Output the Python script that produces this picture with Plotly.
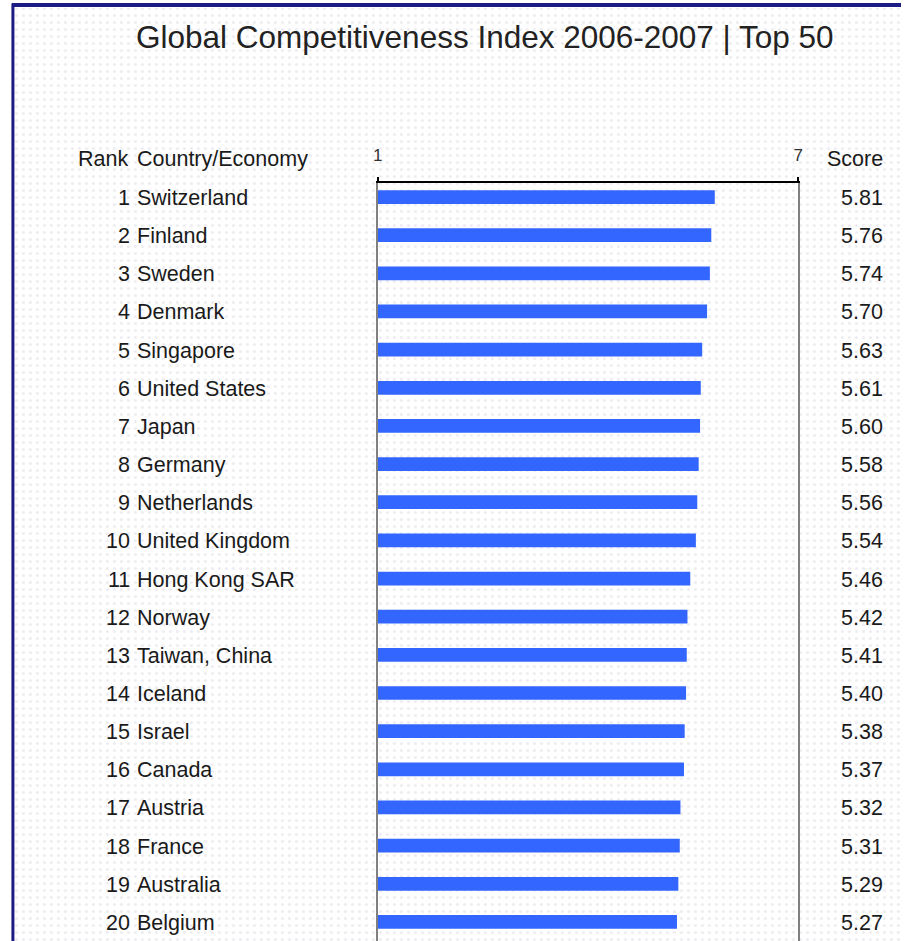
import plotly.graph_objects as go

# ---- data ----
ranks = list(range(1, 21))
countries = ["Switzerland", "Finland", "Sweden", "Denmark", "Singapore",
             "United States", "Japan", "Germany", "Netherlands", "United Kingdom",
             "Hong Kong SAR", "Norway", "Taiwan, China", "Iceland", "Israel",
             "Canada", "Austria", "France", "Australia", "Belgium"]
scores = [5.81, 5.76, 5.74, 5.70, 5.63, 5.61, 5.60, 5.58, 5.56, 5.54,
          5.46, 5.42, 5.41, 5.40, 5.38, 5.37, 5.32, 5.31, 5.29, 5.27]
axis_ticks = [1, 7]
title_text = "Global Competitiveness Index 2006-2007 | Top 50"

W, H = 906, 941
def X(px): return px / W
def Y(py): return 1 - py / H

FONT = "Liberation Sans, Arial, sans-serif"
TXT = "#1a1a1a"
BAR = "#3366ff"
NAVY = "#1c1c84"
FS = 21.5

fig = go.Figure()

# faint dotted page background (inside the navy frame)
fig.add_trace(go.Scatter(
    x=[0, 1, 1, 0, 0], y=[0, 0, 1, 1, 0], xaxis="x", yaxis="y",
    mode="none", fill="toself", fillcolor="white",
    fillpattern=dict(shape=".", fgcolor="#d9d9e3", bgcolor="white", size=7, solidity=0.15),
    hoverinfo="skip", showlegend=False))

# bars
fig.add_trace(go.Bar(
    x=scores, y=ranks, orientation="h", xaxis="x2", yaxis="y2",
    marker=dict(color=BAR, line=dict(width=0)), width=0.36,
    showlegend=False, hovertemplate="%{y}: %{x}<extra></extra>"))

ann = []
ann.append(dict(text=title_text, x=X(485), y=Y(37), xref="paper", yref="paper",
                xanchor="center", yanchor="middle", showarrow=False,
                font=dict(family=FONT, size=31.5, color="#222")))
hdr_y = Y(159)
ann.append(dict(text="Rank", x=X(126), y=hdr_y, xref="paper", yref="paper",
                xanchor="right", yanchor="middle", showarrow=False,
                font=dict(family=FONT, size=FS, color=TXT)))
ann.append(dict(text="Country/Economy", x=X(131), y=hdr_y, xref="paper", yref="paper",
                xanchor="left", yanchor="middle", showarrow=False,
                font=dict(family=FONT, size=FS, color=TXT)))
ann.append(dict(text="Score", x=X(890), y=hdr_y, xref="paper", yref="paper",
                xanchor="right", yanchor="middle", showarrow=False,
                font=dict(family=FONT, size=FS, color=TXT)))
for r, c, s in zip(ranks, countries, scores):
    ann.append(dict(text=str(r), x=X(128), y=r, xref="paper", yref="y2",
                    xanchor="right", yanchor="middle", showarrow=False, yshift=-1,
                    font=dict(family=FONT, size=FS, color=TXT)))
    ann.append(dict(text=c, x=X(131), y=r, xref="paper", yref="y2",
                    xanchor="left", yanchor="middle", showarrow=False, yshift=-1,
                    font=dict(family=FONT, size=FS, color=TXT)))
    ann.append(dict(text=f"{s:.2f}", x=X(890), y=r, xref="paper", yref="y2",
                    xanchor="right", yanchor="middle", showarrow=False, yshift=-1,
                    font=dict(family=FONT, size=FS, color=TXT)))

shapes = [
    dict(type="rect", xref="paper", yref="paper", x0=0, x1=1, y0=Y(8), y1=1,
         fillcolor="white", line=dict(width=0), layer="above"),
    dict(type="line", xref="paper", yref="paper", x0=X(7), x1=1, y0=Y(5), y1=Y(5),
         line=dict(color=NAVY, width=4), layer="above"),
    dict(type="line", xref="paper", yref="paper", x0=X(8), x1=X(8), y0=0, y1=Y(3.5),
         line=dict(color=NAVY, width=3), layer="above"),
]

fig.update_layout(
    width=W, height=H, margin=dict(l=0, r=0, t=0, b=0),
    paper_bgcolor="white", plot_bgcolor="rgba(0,0,0,0)",
    showlegend=False, annotations=ann, shapes=shapes,
    xaxis=dict(domain=[X(8), 1], range=[0, 1], visible=False, fixedrange=True),
    yaxis=dict(domain=[0, Y(5)], range=[0, 1], visible=False, fixedrange=True),
    xaxis2=dict(domain=[X(377), X(802)], range=[1, 7], anchor="y2", side="top",
                showline=True, linecolor="black", linewidth=2,
                ticks="outside", ticklen=4, tickwidth=1.5, tickcolor="black",
                tickvals=axis_ticks, ticktext=[str(t) for t in axis_ticks],
                tickfont=dict(family=FONT, size=17, color="#333"),
                ticklabelstandoff=9, showgrid=False, zeroline=False),
    yaxis2=dict(domain=[0, Y(182.7)], range=[20.5, 0.625], anchor="x2",
                showline=True, linecolor="#808080", linewidth=1.5, mirror=True,
                showticklabels=False, ticks="", showgrid=False, zeroline=False),
)

fig.write_html("out.html", config={"displayModeBar": False},
               post_script="document.body.style.margin='0';document.body.style.overflow='hidden';")
